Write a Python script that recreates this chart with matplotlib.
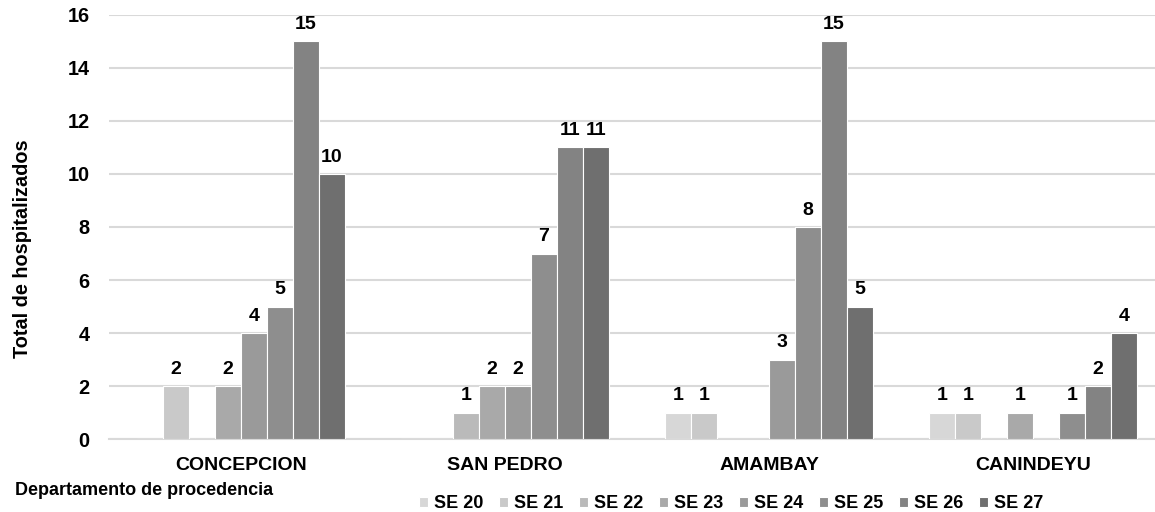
import numpy as np
import matplotlib
matplotlib.use('Agg')
import matplotlib.pyplot as plt

plt.rcParams['font.family'] = ['Liberation Sans', 'DejaVu Sans']
plt.rcParams['font.weight'] = 'bold'

departamentos = ['CONCEPCION', 'SAN PEDRO', 'AMAMBAY', 'CANINDEYU']
semanas = ['SE 20', 'SE 21', 'SE 22', 'SE 23', 'SE 24', 'SE 25', 'SE 26', 'SE 27']
# valores por semana, en el orden de departamentos
se20 = [0, 0, 1, 1]
se21 = [2, 0, 1, 1]
se22 = [0, 1, 0, 0]
se23 = [2, 2, 0, 1]
se24 = [4, 2, 3, 0]
se25 = [5, 7, 8, 1]
se26 = [15, 11, 15, 2]
se27 = [10, 11, 5, 4]
series = [se20, se21, se22, se23, se24, se25, se26, se27]
colores = ['#d7d7d7', '#c9c9c9', '#bababa', '#a9a9a9', '#9a9a9a', '#8e8e8e', '#838383', '#6f6f6f']

fig = plt.figure(figsize=(11.55, 5.12), dpi=100)
ax = fig.add_axes([109/1155, 1 - 439.3/512, 1056/1155, (439.3 - 14.7)/512])

x = np.arange(len(departamentos))
w = 0.0985
for i in range(len(series)):
  pos = x + (i - 3.5)*w
  vals = np.array(series[i])
  ax.bar(pos, vals, w, color=colores[i], edgecolor='white', linewidth=0.8,
         label=semanas[i], zorder=3)
  for p, v in zip(pos, vals):
    if v > 0:
      ax.annotate(str(v), (p, v), xytext=(0, 6), textcoords='offset points',
                  ha='center', va='bottom', fontsize=14, fontweight='bold')

ax.set_xlim(-0.5, 3.5)
ax.set_ylim(0, 16)
ax.set_yticks(range(0, 17, 2))
ax.yaxis.grid(True, color='#d9d9d9', linewidth=1.5, zorder=0)
ax.set_axisbelow(True)
for s in ['top', 'right', 'left']:
  ax.spines[s].set_visible(False)
ax.spines['bottom'].set_color('#d9d9d9')
ax.spines['bottom'].set_linewidth(1.5)
ax.set_xticks(x)
ax.set_xticklabels(departamentos, fontsize=14, fontweight='bold')
ax.tick_params(axis='x', length=0, pad=13)
ax.tick_params(axis='y', length=0, pad=14, labelsize=14.3)

fig.text(23/1155, 1 - 249/512, 'Total de hospitalizados', rotation=90, ha='center',
         va='center', fontsize=14.3, fontweight='bold')
fig.text(15/1155, 1 - 495/512, 'Departamento de procedencia', ha='left',
         va='baseline', fontsize=13, fontweight='bold')

fig.legend(loc='center', bbox_to_anchor=(731/1155, 1 - 504/512), ncol=8,
           frameon=False, fontsize=13, handlelength=0.5, handleheight=0.5,
           handletextpad=0.35, columnspacing=0.85, borderpad=0)

fig.savefig('out.png', dpi=100)
